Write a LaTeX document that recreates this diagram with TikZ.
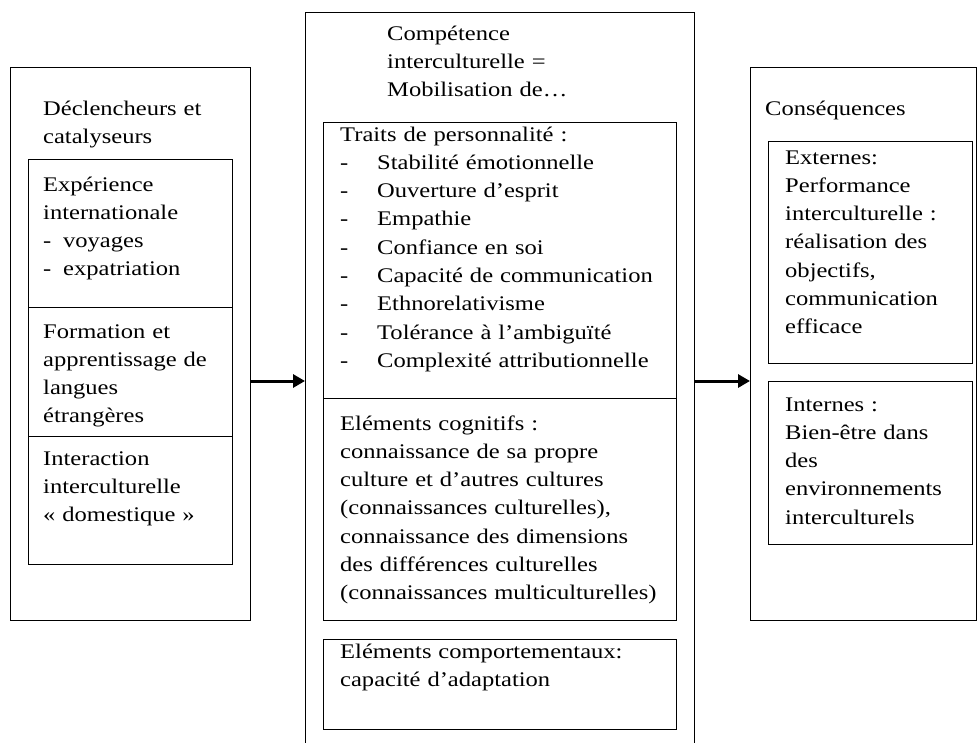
\documentclass[tikz,border=0pt]{standalone}
\usepackage{fontspec}
\setmainfont{Liberation Serif}[FakeStretch=1.18]
\usetikzlibrary{arrows.meta, positioning}

\begin{document}
\begin{tikzpicture}[x=1pt, y=-1pt,
    box/.style={draw, line width=1.2pt, inner sep=0pt, anchor=north west},
    txt/.style={anchor=base west, inner sep=0pt, text width=360pt, align=left,
                font=\fontsize{20.8}{28.3}\selectfont},
    flow/.style={line width=3pt, -{Triangle[length=12pt, width=13pt]}}]
    \useasboundingbox (0,0) rectangle (977,742);

    % outer frames
    \node[box, minimum width=240pt, minimum height=553pt] (trig) at (10,67) {};
    \node[box, minimum width=389pt, minimum height=740pt] (comp) at (305,12) {};
    \node[box, minimum width=226pt, minimum height=553pt] (cons) at (750,67) {};

    % left column
    \node[box, minimum width=204pt, minimum height=148pt] (exp) at (28,159) {};
    \node[box, minimum width=204pt, minimum height=129pt] (form) at (28,307) {};
    \node[box, minimum width=204pt, minimum height=128pt] (inter) at (28,436) {};
    \node[txt] (trigtitle) at (43,115) {Déclencheurs et\\catalyseurs};
    \node[txt] (exptext) at (43,191) {Expérience\\internationale\\\makebox[20pt][l]{-}voyages\\\makebox[20pt][l]{-}expatriation};
    \node[txt] (formtext) at (43,338) {Formation et\\apprentissage de\\langues\\étrangères};
    \node[txt] (intertext) at (43,465) {Interaction\\interculturelle\\«~domestique~»};

    % middle column
    \node[box, minimum width=353pt, minimum height=276pt] (traits) at (323,122) {};
    \node[box, minimum width=353pt, minimum height=222pt] (cog) at (323,398) {};
    \node[box, minimum width=353pt, minimum height=90pt] (behav) at (323,639) {};
    \node[txt] (comptitle) at (387,40) {Compétence\\interculturelle =\\Mobilisation de…};
    \node[txt] (traitstext) at (340,141) {Traits de personnalité :\\
        \makebox[37pt][l]{-}Stabilité émotionnelle\\
        \makebox[37pt][l]{-}Ouverture d’esprit\\
        \makebox[37pt][l]{-}Empathie\\
        \makebox[37pt][l]{-}Confiance en soi\\
        \makebox[37pt][l]{-}Capacité de communication\\
        \makebox[37pt][l]{-}Ethnorelativisme\\
        \makebox[37pt][l]{-}Tolérance à l’ambiguïté\\
        \makebox[37pt][l]{-}Complexité attributionnelle};
    \node[txt] (cogtext) at (340,430) {Eléments cognitifs :\\connaissance de sa propre\\culture et d’autres cultures\\(connaissances culturelles),\\connaissance des dimensions\\des différences culturelles\\(connaissances multiculturelles)};
    \node[txt] (behavtext) at (340,658) {Eléments comportementaux:\\capacité d’adaptation};

    % right column
    \node[box, minimum width=204pt, minimum height=222pt] (ext) at (768,141) {};
    \node[box, minimum width=204pt, minimum height=163pt] (int) at (768,381) {};
    \node[txt] (constitle) at (765,115) {Conséquences};
    \node[txt] (exttext) at (785,164) {Externes:\\Performance\\interculturelle :\\réalisation des\\objectifs,\\communication\\efficace};
    \node[txt] (inttext) at (785,411) {Internes :\\Bien-être dans\\des\\environnements\\interculturels};

    % arrows
    \coordinate (arrowrow) at (0,381);
    \draw[flow] (trig.east |- arrowrow) -- (comp.west |- arrowrow);
    \draw[flow] (comp.east |- arrowrow) -- (cons.west |- arrowrow);
\end{tikzpicture}
\end{document}
